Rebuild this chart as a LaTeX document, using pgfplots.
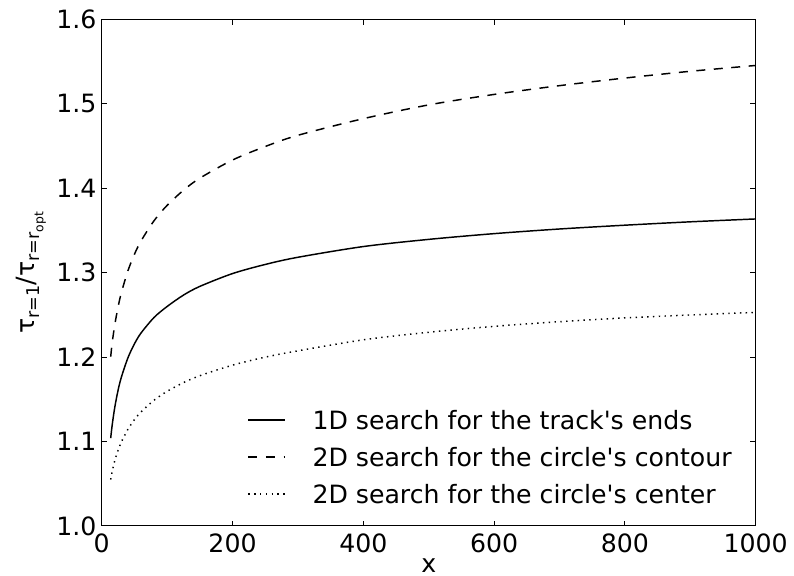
\documentclass[border=0pt]{standalone}
\usepackage{pgfplots}
\pgfplotsset{compat=1.18}
\usepackage{pgfplotstable}
\usepackage{fontspec}
\setmainfont[Ligatures=TeXOff]{DejaVu Sans}
\usetikzlibrary{calc}

\pgfplotstableread{
x y
13.7 1.104
16 1.1196
20 1.1408
25 1.1608
30 1.1762
40 1.1991
50 1.2157
60 1.2285
80 1.2470
100 1.2600
125 1.2735
150 1.2838
200 1.2990
250 1.3098
300 1.3183
400 1.3310
500 1.3395
600 1.3463
700 1.3518
800 1.3563
900 1.3603
1000 1.3637
}\solid

\pgfplotstableread{
x y
13.7 1.2005
16 1.2171
20 1.2386
25 1.2595
30 1.2763
40 1.3022
50 1.3218
60 1.3375
80 1.3616
100 1.3798
125 1.3977
150 1.4120
200 1.4335
250 1.4495
300 1.4628
400 1.4825
500 1.4988
600 1.5112
700 1.5216
800 1.5306
900 1.5386
1000 1.5455
}\dashedt

\pgfplotstableread{
x y
13.7 1.055
16 1.0645
20 1.0775
25 1.0895
30 1.0995
40 1.1145
50 1.1260
60 1.1350
80 1.1490
100 1.1595
125 1.1698
150 1.1780
200 1.1905
250 1.2000
300 1.2075
400 1.2205
500 1.2295
600 1.2365
700 1.2420
800 1.2465
900 1.2500
1000 1.2530
}\dottedt

\newcommand{\sub}[2][-0.22em]{\raisebox{#1}{\fontsize{13.2}{13.2}\selectfont #2}}
\newcommand{\subsub}[1]{\raisebox{-0.2em}{\fontsize{9.3}{9.3}\selectfont #1}}

\begin{document}
\fontsize{18.9}{22}\selectfont
\begin{tikzpicture}
\begin{axis}[
  name=ax,
  scale only axis,
  width=490.5pt, height=379.9pt,
  xmin=0, xmax=1000, ymin=1.0, ymax=1.6,
  xtick={0,200,400,600,800,1000},
  ytick={1.0,1.1,1.2,1.3,1.4,1.5,1.6},
  scaled ticks=false,
  /pgf/number format/assume math mode=true,
  yticklabel={\pgfmathprintnumber[fixed,fixed zerofill,precision=1]{\tick}},
  xticklabel={\pgfmathprintnumber[fixed,precision=0,1000 sep={}]{\tick}},
  tick align=inside,
  major tick length=4.1pt,
  axis line style={line width=0.75pt},
  tick style={line width=0.75pt, black},
  every tick label/.append style={font=\fontsize{18.9}{22}\selectfont},
  xticklabel style={inner sep=0pt, yshift=-5.5pt},
  yticklabel style={inner sep=0pt, xshift=-3.75pt},
  xlabel={x},
  xlabel style={at={(axis description cs:0.5,0)}, anchor=base, inner sep=0pt, yshift=-35pt, font=\fontsize{18.9}{22}\selectfont},
  ylabel={τ\sub{r=1}/τ\sub{r=r\subsub{opt}}},
  ylabel style={at={($(axis description cs:0,0.5)+(-53pt,0)$)}, anchor=center, inner sep=0pt, font=\fontsize{18.9}{22}\selectfont},
  legend cell align=left,
  legend image code/.code={\draw[#1] (0pt,0pt) -- (27.5pt,0pt);},
  legend style={at={(axis cs:223.2,1.1369)}, anchor=north west, draw=none, fill=none,
    inner sep=0pt, outer sep=0pt, row sep=13.2pt, column sep=20pt,
    nodes={inner sep=0pt, text height=0.75em, text depth=0.02em, font=\fontsize{18.9}{22}\selectfont}},
]
\addplot[black, line width=1.1pt, smooth] table[x=x,y=y] {\solid};
\addlegendentry{1D search for the track's ends}
\addplot[black, line width=1.1pt, smooth, dash pattern=on 6.75pt off 6.4pt] table[x=x,y=y] {\dashedt};
\addlegendentry{2D search for the circle's contour}
\addplot[black, line width=1.1pt, smooth, dash pattern=on 1.05pt off 3.3pt] table[x=x,y=y] {\dottedt};
\addlegendentry{2D search for the circle's center}
\end{axis}
\pgfresetboundingbox
\useasboundingbox ($(ax.south west)+(-76.3pt,-37.5pt)$) rectangle ($(ax.north east)+(28.7pt,14.6pt)$);
\end{tikzpicture}
\end{document}
